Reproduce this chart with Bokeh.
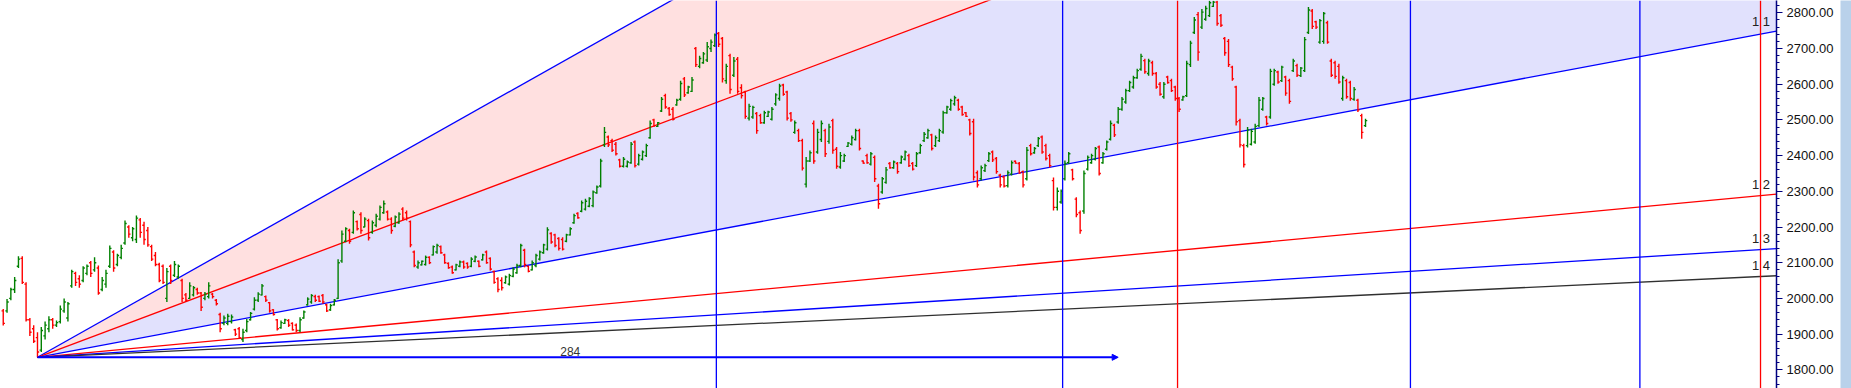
from bokeh.plotting import figure
from bokeh.models import Range1d, FixedTicker, PrintfTickFormatter, Arrow, NormalHead, Span, ColumnDataSource
from bokeh.layouts import row
from bokeh.embed import file_html
from bokeh.resources import INLINE
from bokeh.core.properties import value

# ---------------- data ----------------
opens = [
1965,1965,2000,2025,2090,2112,2040,1940,1915,1890,
1855,1895,1915,1940,1925,1935,1965,1945,2035,2070,
2055,2050,2070,2100,2080,2085,2025,2040,2090,2130,
2095,2115,2155,2200,2170,2165,2220,2205,2190,2145,
2120,2095,2090,2000,2090,2065,2060,2050,2010,2000,
2010,2025,2015,2000,2005,2012,1995,1955,1930,1930,
1935,1912,1915,1885,1910,1940,1970,1995,2010,2005,
1988,1968,1940,1918,1930,1938,1930,1925,1910,1945,
1982,1990,2005,2005,2008,1982,1968,1982,2000,2105,
2160,2190,2185,2215,2235,2200,2218,2185,2205,2222,
2240,2242,2222,2202,2212,2250,2240,2215,2130,2088,
2094,2095,2115,2122,2130,2145,2122,2098,2088,2080,
2090,2102,2098,2090,2104,2104,2108,2130,2112,2075,
2055,2050,2044,2040,2062,2072,2092,2135,2090,2080,
2092,2110,2128,2138,2182,2178,2168,2165,2160,2178,
2212,2238,2244,2250,2258,2260,2296,2315,2430,2452,
2442,2432,2388,2370,2370,2380,2438,2376,2390,2400,
2450,2500,2482,2525,2568,2532,2530,2542,2558,2615,
2576,2580,2700,2650,2660,2668,2700,2708,2742,2728,
2610,2680,2625,2670,2590,2578,2505,2508,2518,2512,
2492,2510,2502,2545,2560,2598,2578,2518,2465,2470,
2442,2320,2385,2490,2410,2445,2470,2440,2498,2418,
2368,2385,2426,2432,2445,2470,2385,2400,2376,2395,
2315,2298,2325,2378,2366,2378,2380,2390,2400,2378,
2372,2408,2442,2450,2458,2428,2442,2466,2520,2530,
2545,2555,2536,2520,2500,2495,2352,2335,2358,2386,
2410,2392,2345,2340,2316,2348,2384,2378,2355,2335,
2428,2408,2428,2452,2428,2400,2330,2255,2270,2335,
2380,2360,2278,2240,2245,2362,2380,2390,2424,2380,
2418,2446,2485,2494,2530,2550,2582,2592,2618,2642,
2666,2630,2660,2630,2600,2565,2620,2610,2592,2560,
2556,2568,2655,2745,2795,2760,2782,2792,2818,2830,
2792,2728,2720,2648,2592,2498,2428,2428,2432,2438,
2484,2530,2508,2508,2600,2634,2610,2620,2610,2638,
2652,2624,2638,2745,2805,2775,2718,2720,2772,2665,
2660,2650,2560,2610,2605,2558,2555,2512,2484]

highs = [
1970,1998,2030,2060,2118,2118,2045,1945,1925,1905,
1920,1935,1950,1945,1938,1980,2000,1990,2080,2075,
2065,2090,2095,2105,2115,2092,2060,2080,2148,2135,
2125,2150,2218,2205,2200,2232,2225,2215,2200,2150,
2130,2100,2095,2085,2095,2105,2095,2055,2015,2045,
2035,2030,2018,2018,2045,2015,1998,1960,1952,1957,
1955,1915,1920,1915,1942,1962,2003,2017,2040,2008,
1990,1970,1942,1938,1943,1942,1933,1930,1947,1966,
2003,2012,2010,2008,2012,1985,1985,1998,2110,2190,
2199,2195,2246,2218,2241,2227,2223,2218,2237,2260,
2274,2246,2227,2232,2241,2255,2246,2218,2134,2106,
2106,2120,2118,2148,2153,2148,2125,2101,2092,2097,
2106,2106,2101,2115,2120,2106,2125,2134,2115,2078,
2059,2059,2064,2069,2087,2097,2153,2139,2092,2106,
2125,2134,2153,2199,2185,2181,2171,2171,2181,2199,
2237,2241,2274,2279,2283,2302,2316,2391,2480,2456,
2447,2438,2391,2396,2386,2438,2442,2405,2414,2433,
2498,2503,2494,2564,2573,2536,2536,2559,2610,2620,
2596,2620,2704,2680,2690,2718,2725,2742,2746,2732,
2657,2685,2676,2676,2600,2582,2545,2540,2522,2517,
2526,2526,2536,2575,2601,2601,2582,2522,2498,2475,
2447,2396,2414,2498,2475,2498,2475,2489,2503,2424,
2410,2405,2438,2456,2475,2475,2386,2405,2410,2400,
2321,2340,2368,2382,2386,2382,2400,2414,2405,2382,
2410,2433,2466,2475,2461,2456,2475,2526,2540,2559,
2568,2559,2540,2522,2503,2503,2358,2372,2377,2410,
2414,2396,2349,2344,2358,2386,2386,2382,2358,2424,
2433,2424,2452,2456,2433,2405,2339,2311,2305,2386,
2410,2363,2283,2246,2358,2400,2405,2424,2428,2410,
2442,2498,2489,2536,2564,2587,2610,2624,2643,2685,
2671,2671,2666,2634,2606,2606,2624,2615,2596,2564,
2568,2666,2722,2788,2802,2811,2820,2834,2834,2834,
2797,2732,2727,2652,2596,2503,2433,2480,2475,2489,
2564,2564,2512,2643,2643,2638,2652,2624,2615,2671,
2657,2648,2732,2816,2811,2778,2783,2802,2778,2671,
2666,2657,2624,2615,2610,2592,2559,2517,2503]

lows = [
1924,1960,1995,2015,2085,2040,1935,1895,1875,1835,
1850,1885,1905,1915,1920,1930,1960,1935,2030,2035,
2030,2045,2065,2060,2075,2010,2020,2030,2085,2075,
2090,2110,2150,2170,2160,2155,2170,2150,2145,2105,
2090,2045,2040,1990,2040,2060,2055,1990,1990,1998,
2005,2010,1965,1995,2000,2000,1980,1905,1925,1925,
1930,1895,1886,1878,1905,1938,1966,1990,2008,1990,
1960,1952,1910,1915,1928,1920,1910,1905,1905,1943,
1980,1985,1990,1990,1985,1962,1965,1980,1998,2100,
2157,2153,2181,2190,2181,2199,2162,2181,2199,2218,
2237,2218,2181,2199,2209,2218,2218,2143,2087,2083,
2092,2092,2096,2120,2125,2125,2097,2083,2069,2078,
2087,2083,2083,2087,2101,2087,2106,2097,2078,2041,
2017,2022,2041,2036,2059,2069,2087,2087,2073,2078,
2087,2106,2125,2134,2153,2143,2134,2134,2157,2176,
2209,2223,2241,2246,2255,2255,2293,2311,2424,2424,
2410,2400,2367,2367,2367,2377,2367,2372,2386,2396,
2447,2480,2480,2522,2531,2512,2498,2540,2554,2564,
2573,2578,2648,2645,2657,2662,2690,2704,2704,2605,
2601,2573,2620,2573,2560,2503,2498,2503,2461,2489,
2489,2508,2498,2540,2554,2568,2498,2495,2461,2438,
2358,2311,2382,2377,2405,2438,2396,2433,2405,2363,
2363,2382,2424,2428,2442,2414,2377,2377,2372,2326,
2251,2293,2321,2363,2363,2349,2377,2386,2368,2358,
2368,2405,2438,2447,2414,2424,2438,2461,2517,2526,
2540,2526,2512,2508,2456,2330,2311,2330,2354,2382,
2382,2349,2311,2311,2311,2344,2377,2349,2311,2330,
2400,2405,2424,2405,2386,2367,2246,2246,2265,2330,
2377,2330,2227,2181,2237,2358,2377,2386,2344,2377,
2414,2442,2452,2489,2526,2545,2578,2587,2615,2638,
2629,2624,2624,2587,2568,2559,2601,2578,2554,2522,
2554,2564,2648,2741,2666,2755,2778,2788,2816,2764,
2760,2680,2648,2610,2484,2423,2367,2423,2428,2433,
2480,2526,2484,2503,2596,2601,2606,2568,2545,2634,
2620,2620,2634,2741,2755,2755,2713,2713,2713,2620,
2615,2601,2554,2559,2554,2554,2522,2447,2480]

closes = [
1930,1990,2025,2050,2110,2045,1940,1905,1880,1850,
1910,1925,1940,1925,1932,1970,1990,1985,2075,2045,
2040,2085,2090,2070,2100,2015,2050,2070,2140,2085,
2120,2140,2210,2180,2195,2225,2185,2165,2150,2110,
2095,2050,2045,2075,2050,2095,2090,2000,1995,2035,
2030,2015,1975,2012,2035,2005,1985,1915,1945,1950,
1948,1900,1890,1905,1935,1958,1995,2012,2035,1995,
1965,1955,1915,1932,1940,1925,1912,1910,1940,1962,
1998,2008,1995,1992,1990,1965,1980,1995,2100,2180,
2195,2160,2240,2195,2190,2222,2170,2212,2230,2255,
2265,2222,2190,2228,2236,2225,2225,2150,2092,2100,
2104,2115,2100,2145,2148,2128,2100,2086,2072,2094,
2102,2088,2088,2110,2116,2090,2122,2100,2082,2045,
2025,2030,2060,2064,2082,2092,2148,2095,2076,2100,
2120,2130,2150,2192,2158,2148,2140,2138,2178,2195,
2232,2226,2268,2272,2280,2298,2312,2385,2465,2430,
2415,2405,2370,2390,2382,2432,2372,2400,2410,2428,
2490,2484,2492,2558,2536,2515,2502,2555,2602,2570,
2592,2612,2655,2672,2685,2705,2718,2738,2712,2615,
2650,2585,2665,2580,2568,2510,2538,2535,2470,2492,
2520,2522,2530,2570,2595,2572,2505,2500,2492,2442,
2365,2385,2408,2385,2465,2490,2405,2480,2415,2370,
2400,2400,2435,2450,2470,2420,2379,2380,2405,2335,
2265,2335,2360,2366,2382,2355,2396,2410,2372,2362,
2405,2428,2460,2470,2420,2450,2470,2520,2536,2554,
2562,2530,2515,2510,2462,2340,2318,2366,2372,2405,
2388,2355,2318,2315,2352,2380,2379,2352,2318,2415,
2405,2420,2448,2410,2392,2372,2255,2300,2300,2378,
2405,2335,2235,2190,2350,2395,2400,2420,2350,2405,
2438,2490,2458,2530,2558,2582,2605,2618,2638,2678,
2635,2665,2630,2592,2572,2600,2605,2582,2560,2530,
2565,2658,2715,2780,2690,2802,2812,2828,2830,2770,
2765,2688,2655,2615,2495,2430,2375,2472,2468,2482,
2555,2560,2490,2636,2638,2606,2648,2575,2552,2665,
2625,2645,2725,2808,2762,2760,2778,2798,2718,2625,
2622,2606,2618,2565,2560,2585,2528,2465,2498]

fan_origin_bar = 9
fan_origin_price = 1835
fan_unit = 2.0                     # price per bar of the 1x1 line
fan_ratios = [3, 2, 1, 1 / 2, 1 / 3, 1 / 4]
fan_labels = ["", "", "1 1", "1 2", "1 3", "1 4"]
fan_colors = ["#0000FF", "#FF0000", "#0000FF", "#FF0000", "#0000FF", "#303030"]
cycle_bars_blue = [187.4, 278.4, 369.8, 430.1]
cycle_bars_red = [308.6, 461.8]
arrow_bars = 284
y_ticks = [1800, 1900, 2000, 2100, 2200, 2300, 2400, 2500, 2600, 2700, 2800]

# ---------------- figure ----------------
X0, X1 = -0.72, 466.0
Y0, Y1 = 1747.6, 2834.5
FONT = "Liberation Sans"

p = figure(frame_width=1776, frame_height=388,
           x_range=Range1d(X0, X1), y_range=Range1d(Y0, Y1),
           output_backend="svg", toolbar_location=None,
           x_axis_location=None, y_axis_location="right",
           min_border_left=0, min_border_top=0, min_border_bottom=0, min_border_right=64)
p.grid.visible = False
p.outline_line_color = None
p.background_fill_color = "white"
p.border_fill_color = "white"

ax = p.yaxis[0]
ax.ticker = FixedTicker(ticks=y_ticks, minor_ticks=list(range(1740, 2841, 20)))
ax.formatter = PrintfTickFormatter(format="%.2f")
ax.axis_line_color = "#000080"
ax.axis_line_width = 1.5
ax.major_tick_line_color = "#000080"
ax.minor_tick_line_color = "#000080"
ax.major_tick_in = 0
ax.major_tick_out = 6
ax.minor_tick_in = 0
ax.minor_tick_out = 3
ax.major_label_standoff = 4
ax.major_label_text_font = FONT
ax.major_label_text_font_size = "13px"
ax.major_label_text_color = "#111111"

# fan geometry
def fan_y(ratio, xb):
    return fan_origin_price + ratio * fan_unit * (xb - fan_origin_bar)

ob, op = fan_origin_bar, fan_origin_price
# fills between 3x1-2x1 (pink) and 2x1-1x1 (lavender)
p.patch([ob, X1, X1], [op, fan_y(fan_ratios[0], X1), fan_y(fan_ratios[1], X1)],
        fill_color="#FFE0E0", line_color=None)
p.patch([ob, X1, X1], [op, fan_y(fan_ratios[1], X1), fan_y(fan_ratios[2], X1)],
        fill_color="#E1E1FD", line_color=None)

for r, col in zip(fan_ratios, fan_colors):
    p.line([ob, X1], [op, fan_y(r, X1)], line_color=col, line_width=1.3)

for xb in cycle_bars_blue:
    p.add_layout(Span(location=xb, dimension="height", line_color="#0000FF", line_width=1.3))
for xb in cycle_bars_red:
    p.add_layout(Span(location=xb, dimension="height", line_color="#FF0000", line_width=1.3))

# fan labels
lab_x, lab_y, lab_t = [], [], []
for r, t in zip(fan_ratios, fan_labels):
    if t:
        lab_x.append(464.3)
        lab_y.append(fan_y(r, X1) + 7)
        lab_t.append(t)
p.text(x=lab_x, y=lab_y, text=lab_t, text_align="right", text_baseline="bottom",
       text_font=value(FONT), text_font_size="13px", text_color="#222222")

# OHLC bars
n = min(len(opens), len(highs), len(lows), len(closes))
idx = list(range(n))
cols = ["#008000" if closes[i] >= opens[i] else "#FF0000" for i in idx]
src = ColumnDataSource(dict(x=idx, xl=[i - 0.45 for i in idx], xr=[i + 0.45 for i in idx],
                            o=opens[:n], h=highs[:n], l=lows[:n], c=closes[:n], col=cols))
p.segment(x0="x", y0="l", x1="x", y1="h", line_color="col", line_width=1.4, source=src)
p.segment(x0="xl", y0="o", x1="x", y1="o", line_color="col", line_width=1.4, source=src)
p.segment(x0="x", y0="c", x1="xr", y1="c", line_color="col", line_width=1.4, source=src)

# time-count arrow
p.add_layout(Arrow(end=NormalHead(size=6, fill_color="#0000FF", line_color="#0000FF"),
                   x_start=ob, y_start=op, x_end=ob + arrow_bars, y_end=op,
                   line_color="#0000FF", line_width=2))
p.text(x=[ob + arrow_bars / 2 - 2], y=[op + 5], text=[str(arrow_bars)], text_align="center",
       text_baseline="bottom", text_font=value(FONT), text_font_size="12px", text_color="#333333")

# right window strip
side = figure(width=11, height=388, x_range=Range1d(0, 1), y_range=Range1d(0, 1),
              output_backend="svg", toolbar_location=None,
              x_axis_location=None, y_axis_location=None, min_border=0)
side.grid.visible = False
side.outline_line_color = None
side.background_fill_color = "#B9D1EA"
side.border_fill_color = "#B9D1EA"

layout = row(p, side, spacing=0)
open("out.html", "w").write(file_html(layout, INLINE))
